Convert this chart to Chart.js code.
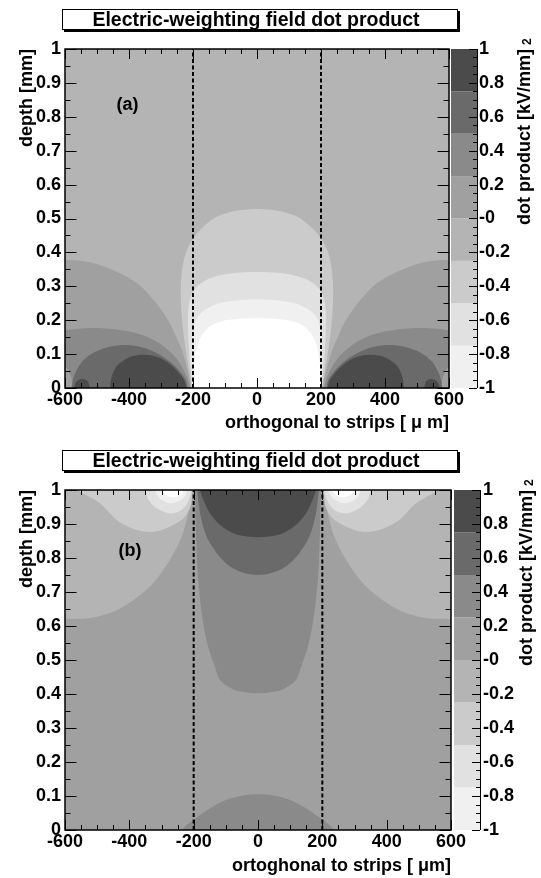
<!DOCTYPE html>
<html>
<head>
<meta charset="utf-8">
<script src="https://cdn.jsdelivr.net/npm/chart.js@4.4.0/dist/chart.umd.min.js"></script>
<style>
  html, body { margin: 0; padding: 0; background: #fff; }
  canvas { display: block; }
</style>
</head>
<body>
<canvas id="panelA" width="541" height="439"></canvas>
<canvas id="panelB" width="541" height="439"></canvas>
<script>
// contour levels of the dot product and the grey used for each band
const levels = [-1, -0.75, -0.5, -0.25, 0, 0.25, 0.5, 0.75, 1];
const bandGrays = ['#f0f0f0', '#e1e1e1', '#cbcbcb', '#b4b4b4', '#a0a0a0', '#8a8a8a', '#6a6a6a', '#4b4b4b'];
const WHITE = -1; // below the lowest level

const zTickValues = [-1, -0.8, -0.6, -0.4, -0.2, 0, 0.2, 0.4, 0.6, 0.8, 1];
const zTickLabels = ['-1', '-0.8', '-0.6', '-0.4', '-0.2', '-0', '0.2', '0.4', '0.6', '0.8', '1'];
const stripEdges = [-200, 200];

// ---- panel (a): contour outlines, [x in um, depth in mm] ----
const aBase = [[-700, -0.2], [700, -0.2], [700, 1.2], [-700, 1.2]];
const aLeft1 = [[-620, -0.03], [-620, 0.379], [-600, 0.378], [-560, 0.376], [-510, 0.368], [-460, 0.352], [-407, 0.328], [-360, 0.298], [-324, 0.26], [-295, 0.225], [-272, 0.19], [-250, 0.145], [-235, 0.112], [-222, 0.07], [-214, 0.04], [-208, 0.01], [-204, -0.03]];
const aLeft2 = [[-620, 0.17], [-600, 0.17], [-560, 0.175], [-510, 0.177], [-460, 0.175], [-407, 0.168], [-360, 0.157], [-324, 0.142], [-295, 0.125], [-272, 0.107], [-250, 0.085], [-235, 0.063], [-220, 0.035], [-212, 0.01], [-208, -0.03], [-576, -0.03], [-578, 0.02], [-588, 0.05], [-600, 0.062], [-620, 0.065]];
const aLeft3 = [[-580, -0.03], [-576, 0.02], [-565, 0.05], [-545, 0.08], [-510, 0.105], [-460, 0.122], [-407, 0.127], [-360, 0.12], [-324, 0.108], [-290, 0.09], [-260, 0.068], [-238, 0.045], [-222, 0.022], [-213, -0.03]];
const aLeft4 = [[-462, -0.03], [-455, 0.03], [-438, 0.065], [-405, 0.088], [-370, 0.097], [-330, 0.096], [-295, 0.085], [-265, 0.065], [-242, 0.042], [-226, 0.02], [-216, -0.03]];
const aLeftDot = [[-574, -0.03], [-568, 0.012], [-556, 0.024], [-540, 0.026], [-527, 0.018], [-519, -0.03]];
const aRight1 = [[620, -0.03], [620, 0.379], [600, 0.378], [560, 0.376], [510, 0.368], [460, 0.352], [407, 0.328], [360, 0.298], [324, 0.26], [295, 0.225], [272, 0.19], [250, 0.145], [235, 0.112], [222, 0.07], [214, 0.04], [208, 0.01], [204, -0.03]];
const aRight2 = [[620, 0.17], [600, 0.17], [560, 0.175], [510, 0.177], [460, 0.175], [407, 0.168], [360, 0.157], [324, 0.142], [295, 0.125], [272, 0.107], [250, 0.085], [235, 0.063], [220, 0.035], [212, 0.01], [208, -0.03], [576, -0.03], [578, 0.02], [588, 0.05], [600, 0.062], [620, 0.065]];
const aRight3 = [[580, -0.03], [576, 0.02], [565, 0.05], [545, 0.08], [510, 0.105], [460, 0.122], [407, 0.127], [360, 0.12], [324, 0.108], [290, 0.09], [260, 0.068], [238, 0.045], [222, 0.022], [213, -0.03]];
const aRight4 = [[462, -0.03], [455, 0.03], [438, 0.065], [405, 0.088], [370, 0.097], [330, 0.096], [295, 0.085], [265, 0.065], [242, 0.042], [226, 0.02], [216, -0.03]];
const aRightDot = [[574, -0.03], [568, 0.012], [556, 0.024], [540, 0.026], [527, 0.018], [519, -0.03]];
const aMid1 = [[-204, -0.03], [-207, 0.02], [-214, 0.06], [-224, 0.12], [-232, 0.18], [-237, 0.24], [-238, 0.29], [-235, 0.34], [-228, 0.38], [-219, 0.407], [-205, 0.433], [-188, 0.456], [-160, 0.482], [-126, 0.505], [-80, 0.52], [-40, 0.526], [0, 0.528], [40, 0.526], [80, 0.52], [126, 0.505], [160, 0.482], [188, 0.456], [205, 0.433], [219, 0.407], [228, 0.38], [235, 0.34], [238, 0.29], [237, 0.24], [232, 0.18], [224, 0.12], [214, 0.06], [207, 0.02], [204, -0.03]];
const aMid2 = [[-202, -0.03], [-205, 0.03], [-210, 0.08], [-214, 0.14], [-216, 0.2], [-213, 0.245], [-205, 0.275], [-190, 0.298], [-157, 0.319], [-120, 0.331], [-70, 0.339], [0, 0.342], [70, 0.339], [120, 0.331], [157, 0.319], [190, 0.298], [205, 0.275], [213, 0.245], [216, 0.2], [214, 0.14], [210, 0.08], [205, 0.03], [202, -0.03]];
const aMid3 = [[-201, -0.03], [-203, 0.04], [-204, 0.1], [-201, 0.16], [-191, 0.2], [-178, 0.218], [-160, 0.232], [-126, 0.248], [-80, 0.257], [0, 0.262], [80, 0.257], [126, 0.248], [160, 0.232], [178, 0.218], [191, 0.2], [201, 0.16], [204, 0.1], [203, 0.04], [201, -0.03]];
const aMid4 = [[-200, -0.03], [-199, 0.04], [-195, 0.085], [-188, 0.12], [-177, 0.148], [-160, 0.171], [-140, 0.186], [-110, 0.197], [-60, 0.204], [0, 0.206], [60, 0.204], [110, 0.197], [140, 0.186], [160, 0.171], [177, 0.148], [188, 0.12], [195, 0.085], [199, 0.04], [200, -0.03]];

// ---- panel (b) ----
const bBase = [[-700, -0.2], [700, -0.2], [700, 1.2], [-700, 1.2]];
const bLeft0 = [[-620, 1.03], [-620, 0.62], [-600, 0.62], [-560, 0.621], [-512, 0.625], [-450, 0.642], [-388, 0.676], [-326, 0.726], [-274, 0.794], [-237, 0.863], [-217, 0.931], [-205, 0.99], [-201, 1.03]];
const bLeft1 = [[-565, 1.03], [-558, 1.0], [-525, 0.98], [-491, 0.961], [-439, 0.912], [-377, 0.882], [-325, 0.877], [-274, 0.892], [-232, 0.917], [-210, 0.951], [-204, 0.99], [-202, 1.03]];
const bLeft2 = [[-355, 1.03], [-351, 1.0], [-341, 0.971], [-315, 0.946], [-274, 0.931], [-237, 0.941], [-217, 0.966], [-207, 0.995], [-205, 1.03]];
const bLeft3 = [[-323, 1.03], [-320, 1.0], [-305, 0.975], [-274, 0.961], [-242, 0.969], [-222, 0.99], [-216, 1.03]];
const bLeft4 = [[-302, 1.03], [-299, 1.0], [-286, 0.985], [-263, 0.978], [-242, 0.985], [-230, 1.0], [-228, 1.03]];
const bRight0 = [[620, 1.03], [620, 0.62], [600, 0.62], [560, 0.621], [512, 0.625], [450, 0.642], [388, 0.676], [326, 0.726], [274, 0.794], [237, 0.863], [217, 0.931], [205, 0.99], [201, 1.03]];
const bRight1 = [[565, 1.03], [558, 1.0], [525, 0.98], [491, 0.961], [439, 0.912], [377, 0.882], [325, 0.877], [274, 0.892], [232, 0.917], [210, 0.951], [204, 0.99], [202, 1.03]];
const bRight2 = [[355, 1.03], [351, 1.0], [341, 0.971], [315, 0.946], [274, 0.931], [237, 0.941], [217, 0.966], [207, 0.995], [205, 1.03]];
const bRight3 = [[323, 1.03], [320, 1.0], [305, 0.975], [274, 0.961], [242, 0.969], [222, 0.99], [216, 1.03]];
const bRight4 = [[302, 1.03], [299, 1.0], [286, 0.985], [263, 0.978], [242, 0.985], [230, 1.0], [228, 1.03]];
const bMid1 = [[-197, 1.03], [-196, 1], [-193, 0.882], [-186, 0.735], [-172, 0.618], [-155, 0.539], [-134, 0.48], [-118, 0.441], [-80, 0.415], [-40, 0.405], [0, 0.402], [40, 0.405], [80, 0.415], [118, 0.441], [134, 0.48], [155, 0.539], [172, 0.618], [186, 0.735], [193, 0.882], [196, 1], [197, 1.03]];
const bMid2 = [[-191, 1.03], [-189, 1], [-180, 0.931], [-160, 0.863], [-128, 0.814], [-87, 0.775], [-40, 0.755], [0, 0.75], [40, 0.755], [87, 0.775], [128, 0.814], [160, 0.863], [180, 0.931], [189, 1], [191, 1.03]];
const bMid3 = [[-183, 1.03], [-180, 1], [-170, 0.971], [-149, 0.931], [-118, 0.897], [-77, 0.873], [-35, 0.863], [0, 0.861], [35, 0.863], [77, 0.873], [118, 0.897], [149, 0.931], [170, 0.971], [180, 1], [183, 1.03]];
const bFloor = [[-240, -0.03], [-232, 0.005], [-200, 0.03], [-150, 0.063], [-100, 0.088], [-50, 0.101], [0, 0.105], [50, 0.101], [100, 0.088], [150, 0.063], [200, 0.03], [232, 0.005], [240, -0.03]];

const FONT = '"Liberation Sans", Arial, Helvetica, sans-serif';

// one filled contour band; listed back to front
function band(pts, idx, tension = 0.3) {
  return {
    data: pts.map(([x, y]) => ({ x, y })),
    fill: 'shape',
    backgroundColor: idx === WHITE ? '#ffffff' : bandGrays[idx],
    borderWidth: 0,
    pointRadius: 0,
    tension,
  };
}

function stripLine(x) {
  return {
    data: [{ x, y: 0 }, { x, y: 1 }],
    fill: false,
    borderColor: '#000',
    borderWidth: 2,
    borderDash: [4, 2.5],
    pointRadius: 0,
    order: -1,
  };
}

function rootDecor(p) {
  return {
    id: 'rootDecor',
    afterDraw(chart) {
      const { ctx, chartArea: a, scales: { x, y, z } } = chart;
      ctx.save();

      // colour scale
      const c0 = a.right + p.barGap, c1 = c0 + 26;
      for (let i = 0; i < bandGrays.length; i++) {
        const top = z.getPixelForValue(levels[i + 1]);
        const bot = z.getPixelForValue(levels[i]);
        ctx.fillStyle = bandGrays[i];
        ctx.fillRect(c0, top, c1 - c0, bot - top);
      }
      ctx.strokeStyle = '#000';
      ctx.lineWidth = 1;
      ctx.beginPath();
      ctx.moveTo(c1 + 0.5, a.top);
      ctx.lineTo(c1 + 0.5, a.bottom);
      for (let v = -1; v <= 1.0001; v += 0.05) {
        const py = Math.round(z.getPixelForValue(v)) + 0.5;
        const major = Math.abs(Math.round(v * 5) - v * 5) < 1e-6;
        ctx.moveTo(c1, py);
        ctx.lineTo(c1 - (major ? 8 : 4), py);
      }
      ctx.stroke();

      // axis ticks on all four sides, pointing inwards
      ctx.beginPath();
      for (let v = -600; v <= 600; v += 50) {
        const px = Math.round(x.getPixelForValue(v)) + 0.5;
        const len = v % 200 === 0 ? 10 : 5;
        ctx.moveTo(px, a.bottom); ctx.lineTo(px, a.bottom - len);
        ctx.moveTo(px, a.top); ctx.lineTo(px, a.top + len);
      }
      for (let i = 0; i <= 20; i++) {
        const py = Math.round(y.getPixelForValue(i * 0.05)) + 0.5;
        const len = i % 2 === 0 ? 11.5 : 5.5;
        ctx.moveTo(a.left, py); ctx.lineTo(a.left + len, py);
        ctx.moveTo(a.right, py); ctx.lineTo(a.right - len, py);
      }
      ctx.stroke();

      // frame
      ctx.lineWidth = 1.5;
      ctx.strokeRect(a.left, a.top, a.right - a.left, a.bottom - a.top);

      // panel tag
      ctx.fillStyle = '#000';
      ctx.font = 'bold 18px ' + FONT;
      ctx.textAlign = 'center';
      ctx.textBaseline = 'middle';
      ctx.fillText(p.tag, x.getPixelForValue(p.tagAt[0]), y.getPixelForValue(p.tagAt[1]));

      // colour scale title, reading upwards; the exponent sits past the bracket
      ctx.save();
      ctx.translate(p.zTitleX, a.top);
      ctx.rotate(-Math.PI / 2);
      ctx.textBaseline = 'middle';
      ctx.textAlign = 'right';
      ctx.font = 'bold 18px ' + FONT;
      ctx.fillText('dot product [kV/mm]', 0, 0);
      ctx.textAlign = 'left';
      ctx.font = 'bold 12px ' + FONT;
      ctx.fillText('2', 4, 3);
      ctx.restore();

      // title box with drop shadow
      const bx = 62, by = p.boxTop, bw = 396, bh = 21;
      ctx.fillStyle = '#000';
      ctx.fillRect(bx + 2, by + 2, bw, bh);
      ctx.fillStyle = '#fff';
      ctx.fillRect(bx, by, bw, bh);
      ctx.lineWidth = 1;
      ctx.strokeRect(bx + 0.5, by + 0.5, bw - 1, bh - 1);
      ctx.fillStyle = '#000';
      ctx.font = 'bold 19.5px ' + FONT;
      ctx.textAlign = 'center';
      ctx.textBaseline = 'alphabetic';
      ctx.fillText('Electric-weighting field dot product', bx + bw / 2 - 4, by + 17);

      ctx.restore();
    },
  };
}

function makePanel(id, bands, p) {
  const datasets = bands.map((b, i) => Object.assign(b, { order: bands.length - i }));
  stripEdges.forEach(s => datasets.push(stripLine(s)));
  const tickFont = { family: FONT, weight: 'bold', size: 18 };
  return new Chart(document.getElementById(id), {
    type: 'line',
    data: { datasets },
    options: {
      responsive: false,
      animation: false,
      devicePixelRatio: 1,
      layout: { padding: { top: p.top, left: 0, right: 0, bottom: 0 } },
      elements: { line: { capBezierPoints: false } },
      plugins: { legend: { display: false }, tooltip: { enabled: false } },
      scales: {
        x: {
          type: 'linear', min: -600, max: 600,
          grid: { display: false, drawTicks: false }, border: { display: false },
          ticks: { stepSize: 200, padding: 1, color: '#000', font: tickFont, maxRotation: 0, autoSkip: false },
          title: { display: true, text: p.xTitle, align: 'end', color: '#000', font: tickFont, padding: { top: 0, bottom: p.xTitlePad } },
          afterFit: s => { s.height = p.xAxisHeight; },
        },
        y: {
          type: 'linear', min: 0, max: 1,
          grid: { display: false, drawTicks: false }, border: { display: false },
          ticks: { stepSize: 0.1, padding: 4, color: '#000', font: tickFont, autoSkip: false, callback: v => String(+v.toFixed(1)) },
          title: { display: true, text: 'depth [mm]', align: 'end', color: '#000', font: tickFont, padding: { top: 16, bottom: 0 } },
          afterFit: s => { s.width = 65; },
        },
        z: {
          type: 'linear', position: 'right', min: -1, max: 1,
          grid: { display: false, drawTicks: false }, border: { display: false },
          ticks: {
            stepSize: 0.2, padding: p.zPad, color: '#000', font: tickFont, autoSkip: false,
            callback: v => zTickLabels[zTickValues.findIndex(t => Math.abs(t - v) < 1e-6)],
          },
          afterFit: s => { s.width = 541 - p.right; },
        },
      },
    },
    plugins: [rootDecor(p)],
  });
}

makePanel('panelA', [
  band(aBase, 3, 0),
  band(aLeft1, 4), band(aLeft2, 5), band(aLeft3, 6), band(aLeft4, 7), band(aLeftDot, 7),
  band(aRight1, 4), band(aRight2, 5), band(aRight3, 6), band(aRight4, 7), band(aRightDot, 7),
  band(aMid1, 2), band(aMid2, 1), band(aMid3, 0), band(aMid4, WHITE),
], {
  top: 49, right: 449, xAxisHeight: 51, xTitle: 'orthogonal to strips [ \u03bc m]', xTitlePad: 5,
  zPad: 30, barGap: 2, zTitleX: 525, boxTop: 9, tag: '(a)', tagAt: [-405, 0.835],
});

makePanel('panelB', [
  band(bBase, 4, 0),
  band(bLeft0, 3), band(bLeft1, 2), band(bLeft2, 1), band(bLeft3, 0), band(bLeft4, WHITE),
  band(bRight0, 3), band(bRight1, 2), band(bRight2, 1), band(bRight3, 0), band(bRight4, WHITE),
  band(bMid1, 5), band(bMid2, 6), band(bMid3, 7), band(bFloor, 5),
], {
  top: 51, right: 451, xAxisHeight: 48, xTitle: 'ortoghonal to strips [ \u03bcm]', xTitlePad: 1,
  zPad: 32, barGap: 3, zTitleX: 527, boxTop: 11, tag: '(b)', tagAt: [-398, 0.82],
});
</script>
</body>
</html>
